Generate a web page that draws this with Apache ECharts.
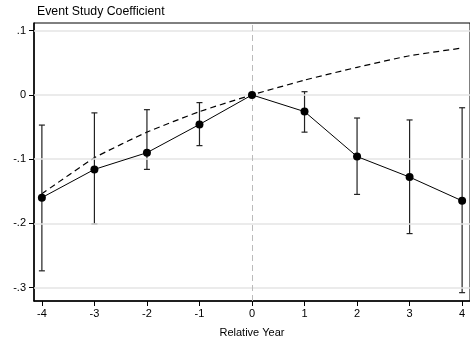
<!DOCTYPE html>
<html>
<head>
<meta charset="utf-8">
<script src="https://cdn.jsdelivr.net/npm/echarts@6/dist/echarts.min.js"></script>
<style>
  html, body { margin: 0; padding: 0; background: #fff; }
  #chart { width: 470px; height: 343px; }
</style>
</head>
<body>
<div id="chart"></div>
<script>
// data
const years = [-4, -3, -2, -1, 0, 1, 2, 3, 4];
const coef = [-0.160, -0.116, -0.090, -0.046, 0, -0.026, -0.096, -0.128, -0.165];
const ciLow = [-0.274, -0.201, -0.116, -0.079, null, -0.058, -0.155, -0.216, -0.308];
const ciHigh = [-0.047, -0.028, -0.023, -0.012, null, 0.005, -0.036, -0.039, -0.020];
const trend = [-0.154, -0.098, -0.058, -0.026, 0, 0.023, 0.043, 0.061, 0.073];
const yTicks = [0.1, 0, -0.1, -0.2, -0.3];
const xTicks = [-4, -3, -2, -1, 0, 1, 2, 3, 4];
const refYear = 0;

const chart = echarts.init(document.getElementById('chart'), null, { renderer: 'canvas' });

const fmtY = v => (v === 0 ? '0' : v.toFixed(1).replace('0.', '.'));

const option = {
  animation: false,
  textStyle: { fontFamily: 'Liberation Sans, Arial, sans-serif' },
  title: {
    text: 'Event Study Coefficient',
    left: 37, top: 6, padding: 0,
    textStyle: { fontSize: 12.3, fontWeight: 'normal', color: '#000' }
  },
  grid: {
    left: 34, top: 23, width: 443, height: 284,
    show: true, borderColor: '#000', borderWidth: 1
  },
  xAxis: {
    type: 'value',
    min: -4.15, max: 4.15,
    name: 'Relative Year',
    nameLocation: 'middle',
    nameGap: 26,
    nameTextStyle: { fontSize: 11, color: '#000' },
    axisLine: { onZero: false, lineStyle: { color: '#000', width: 1.5 } },
    axisTick: { customValues: xTicks, length: 5, lineStyle: { color: '#000' } },
    axisLabel: { customValues: xTicks, fontSize: 11, color: '#000', margin: 7 },
    splitLine: { show: false }
  },
  yAxis: {
    type: 'value',
    min: -0.321, max: 0.112,
    axisLine: { show: true, onZero: false, lineStyle: { color: '#000', width: 1.5 } },
    axisTick: { show: true, customValues: yTicks, length: 5, lineStyle: { color: '#000' } },
    axisLabel: { customValues: yTicks, fontSize: 11, color: '#000', margin: 8, formatter: fmtY },
    splitLine: { show: false }
  },
  series: [
    {
      // horizontal grid lines + reference year
      type: 'line',
      data: [],
      silent: true,
      markLine: {
        symbol: 'none',
        label: { show: false },
        silent: true,
        data: yTicks.map(v => ({ yAxis: v, lineStyle: { color: '#e4e4e4', width: 1.5, type: 'solid' } }))
          .concat([{ xAxis: refYear, lineStyle: { color: '#bbb', width: 1, type: [6, 4] } }])
      }
    },
    {
      name: 'trend',
      type: 'line',
      smooth: 0.15,
      data: years.map((x, i) => [x, trend[i]]),
      symbol: 'none',
      lineStyle: { color: '#000', width: 1.2, type: [6, 4] },
      z: 3
    },
    {
      name: 'ci',
      type: 'custom',
      data: years.map((x, i) => [x, ciLow[i], ciHigh[i]]).filter(d => d[1] !== null),
      renderItem: function (params, api) {
        const lo = api.coord([api.value(0), api.value(1)]);
        const hi = api.coord([api.value(0), api.value(2)]);
        const w = 3;
        const style = { stroke: '#222', lineWidth: 1.2 };
        return {
          type: 'group',
          children: [
            { type: 'line', shape: { x1: lo[0], y1: lo[1], x2: hi[0], y2: hi[1] }, style },
            { type: 'line', shape: { x1: lo[0] - w, y1: lo[1], x2: lo[0] + w, y2: lo[1] }, style },
            { type: 'line', shape: { x1: hi[0] - w, y1: hi[1], x2: hi[0] + w, y2: hi[1] }, style }
          ]
        };
      },
      z: 4
    },
    {
      name: 'coef',
      type: 'line',
      data: years.map((x, i) => [x, coef[i]]),
      symbol: 'circle',
      symbolSize: 8,
      itemStyle: { color: '#000' },
      lineStyle: { color: '#000', width: 1 },
      z: 5
    }
  ]
};

chart.setOption(option);
window.addEventListener('resize', chart.resize);
</script>
</body>
</html>
